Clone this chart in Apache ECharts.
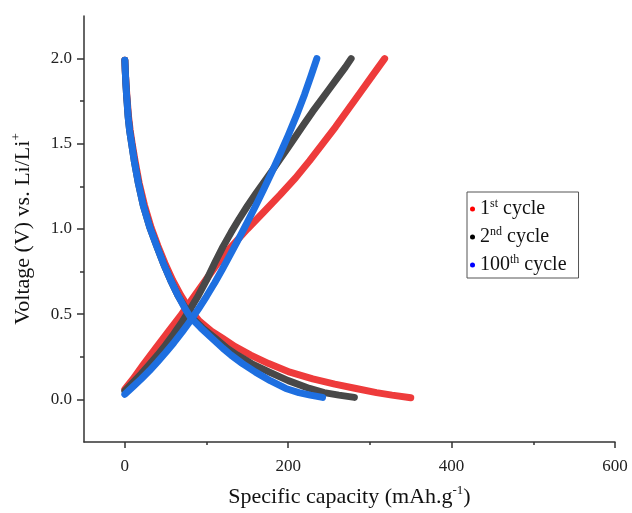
<!DOCTYPE html>
<html>
<head>
<meta charset="utf-8">
<script src="https://cdn.jsdelivr.net/npm/echarts@6/dist/echarts.min.js"></script>
<style>
  html, body { margin: 0; padding: 0; background: #fff; }
  #chart { width: 632px; height: 513px; }
</style>
</head>
<body>
<div id="chart"></div>
<script>
// 放电/充电曲线数据 (capacity mAh/g, voltage V)
const cap1Dis  = [0, 0.5, 1.5, 2.5, 4.5, 6.5, 9, 12.5, 17.5, 24, 32, 40.5, 49, 58.5, 68.5, 79, 91, 106, 120, 135, 154, 176, 202, 230, 257, 283, 308, 327, 350]
const volt1Dis = [1.99, 1.93, 1.85, 1.78, 1.66, 1.58, 1.50, 1.40, 1.27, 1.14, 1.01, 0.90, 0.80, 0.70, 0.61, 0.53, 0.46, 0.40, 0.357, 0.31, 0.26, 0.21, 0.16, 0.12, 0.09, 0.064, 0.04, 0.025, 0.01]
const cap1Chg  = [0, 10, 22, 36, 52, 68, 84, 99, 114, 131, 150, 170, 190, 209, 226, 242, 258, 273, 288, 303, 318]
const volt1Chg = [0.06, 0.12, 0.20, 0.29, 0.39, 0.49, 0.60, 0.70, 0.80, 0.90, 1.00, 1.10, 1.20, 1.30, 1.40, 1.50, 1.60, 1.70, 1.80, 1.90, 2.0]

const cap2Dis  = [0, 0.5, 1.3, 2.2, 4, 5.8, 8, 11.5, 16.5, 22.5, 30.5, 39, 47, 56, 65, 75, 82, 95, 111, 125, 137.6, 155, 177, 200, 226, 244, 262, 281]
const volt2Dis = [1.99, 1.93, 1.85, 1.78, 1.66, 1.58, 1.51, 1.40, 1.27, 1.14, 1.01, 0.90, 0.80, 0.70, 0.61, 0.53, 0.48, 0.42, 0.357, 0.30, 0.26, 0.21, 0.16, 0.11, 0.064, 0.04, 0.025, 0.012]
const cap2Chg  = [0, 10, 20, 30, 40, 50, 60, 70, 80, 90, 100, 110, 120, 130, 140, 150, 160, 170, 180, 190, 200, 210, 220, 230, 240, 250, 260, 270, 277]
const volt2Chg = [0.05, 0.10, 0.15, 0.205, 0.26, 0.32, 0.385, 0.455, 0.53, 0.61, 0.70, 0.80, 0.895, 0.98, 1.06, 1.135, 1.205, 1.272, 1.34, 1.41, 1.48, 1.55, 1.62, 1.69, 1.755, 1.82, 1.885, 1.95, 2.0]

const cap100Dis  = [0, 0.5, 1.3, 2.2, 4, 5.8, 8, 11.5, 16.5, 22.5, 30.5, 39, 47, 56, 65, 74, 80.6, 93, 107, 120, 130, 144, 160, 178, 197, 213, 227, 242]
const volt100Dis = [1.99, 1.93, 1.85, 1.78, 1.66, 1.58, 1.51, 1.40, 1.27, 1.14, 1.01, 0.90, 0.80, 0.70, 0.61, 0.53, 0.48, 0.42, 0.357, 0.30, 0.26, 0.21, 0.16, 0.11, 0.064, 0.04, 0.025, 0.012]
const cap100Chg  = [0, 10, 20, 30, 40, 50, 60, 70, 80, 90, 100, 110, 120, 130, 140, 150, 160, 170, 180, 190, 200, 210, 220, 228, 235]
const volt100Chg = [0.03, 0.075, 0.12, 0.168, 0.22, 0.275, 0.333, 0.395, 0.46, 0.53, 0.605, 0.685, 0.77, 0.858, 0.948, 1.04, 1.135, 1.233, 1.335, 1.44, 1.55, 1.665, 1.79, 1.90, 2.0]

// 刻度
const xMajorTicks = [0, 200, 400, 600]
const xMinorTicks = [100, 300, 500]
const yMajorTicks = [0, 0.5, 1.0, 1.5, 2.0]
const yMinorTicks = [0.25, 0.75, 1.25, 1.75]

const cycleNames = ['1st cycle', '2nd cycle', '100th cycle']
const lineColors = ['#ee3b3b', '#484848', '#1e6fe0']
const legendColors = ['#ff0000', '#000000', '#0000ff']

const serif = '"Liberation Serif", "Times New Roman", serif'

function zip(xs, ys) {
    return xs.map((x, i) => [x, ys[i]])
}

const curves = [
    [cap1Dis, volt1Dis, cap1Chg, volt1Chg],
    [cap2Dis, volt2Dis, cap2Chg, volt2Chg],
    [cap100Dis, volt100Dis, cap100Chg, volt100Chg]
]

let series = []
curves.forEach((c, i) => {
    [[c[0], c[1]], [c[2], c[3]]].forEach(pair => {
        series.push({
            name: cycleNames[i],
            type: 'line',
            data: zip(pair[0], pair[1]),
            showSymbol: false,
            smooth: false,
            color: lineColors[i],
            lineStyle: { width: 7, color: lineColors[i], cap: 'round', join: 'round' },
            z: 2 + i
        })
    })
})

const axisColor = '#333'

const chart = echarts.init(document.getElementById('chart'))
chart.setOption({
    animation: false,
    grid: { left: 84, right: 17, top: 16, bottom: 69, containLabel: false },
    legend: {
        orient: 'vertical',
        left: 467,
        top: 192,
        padding: [6, 12, 3, 3],
        itemGap: 7,
        itemWidth: 5,
        itemHeight: 5,
        icon: 'circle',
        borderColor: '#555',
        borderWidth: 1,
        data: cycleNames.map((n, i) => ({ name: n, itemStyle: { color: legendColors[i] } })),
        formatter: name => {
            const m = name.match(/^(\d+)(st|nd|rd|th) (.*)$/)
            return '{n|' + m[1] + '}{s|' + m[2] + '}{n| ' + m[3] + '}'
        },
        textStyle: {
            rich: {
                n: { fontFamily: serif, fontSize: 20, color: '#111', lineHeight: 22 },
                s: { fontFamily: serif, fontSize: 12, color: '#111', lineHeight: 12, verticalAlign: 'top' }
            }
        }
    },
    xAxis: [
        {
            type: 'value',
            min: -50,
            max: 600,
            position: 'bottom',
            name: '{a|Specific capacity (mAh.g}{s|-1}{a|)}',
            nameLocation: 'middle',
            nameGap: 42,
            nameTextStyle: {
                rich: {
                    a: { fontFamily: serif, fontSize: 22, color: '#111', lineHeight: 26 },
                    s: { fontFamily: serif, fontSize: 13, color: '#111', lineHeight: 14, verticalAlign: 'top' }
                }
            },
            axisLine: { show: true, onZero: false, lineStyle: { color: axisColor, width: 1.5 } },
            axisTick: { show: true, customValues: xMajorTicks, length: 6, lineStyle: { color: axisColor, width: 1.5 } },
            axisLabel: { customValues: xMajorTicks, margin: 16, fontFamily: serif, fontSize: 17, color: '#222' },
            splitLine: { show: false }
        },
        {
            type: 'value',
            min: -50,
            max: 600,
            position: 'bottom',
            axisLine: { show: false, onZero: false },
            axisTick: { show: true, customValues: xMinorTicks, length: 3, lineStyle: { color: axisColor, width: 1.5 } },
            axisLabel: { show: false },
            splitLine: { show: false }
        }
    ],
    yAxis: [
        {
            type: 'value',
            min: -0.25,
            max: 2.25,
            position: 'left',
            name: '{a|Voltage (V) vs. Li/Li}{s|+}',
            nameLocation: 'middle',
            nameGap: 48,
            nameTextStyle: {
                rich: {
                    a: { fontFamily: serif, fontSize: 22, color: '#111', lineHeight: 26 },
                    s: { fontFamily: serif, fontSize: 13, color: '#111', lineHeight: 14, verticalAlign: 'top' }
                }
            },
            axisLine: { show: true, onZero: false, lineStyle: { color: axisColor, width: 1.5 } },
            axisTick: { show: true, customValues: yMajorTicks, length: 7, lineStyle: { color: axisColor, width: 1.5 } },
            axisLabel: {
                customValues: yMajorTicks,
                margin: 12,
                fontFamily: serif,
                fontSize: 17,
                color: '#222',
                formatter: v => v.toFixed(1)
            },
            splitLine: { show: false }
        },
        {
            type: 'value',
            min: -0.25,
            max: 2.25,
            position: 'left',
            axisLine: { show: false, onZero: false },
            axisTick: { show: true, customValues: yMinorTicks, length: 4, lineStyle: { color: axisColor, width: 1.5 } },
            axisLabel: { show: false },
            splitLine: { show: false }
        }
    ],
    series: series
})
</script>
</body>
</html>
